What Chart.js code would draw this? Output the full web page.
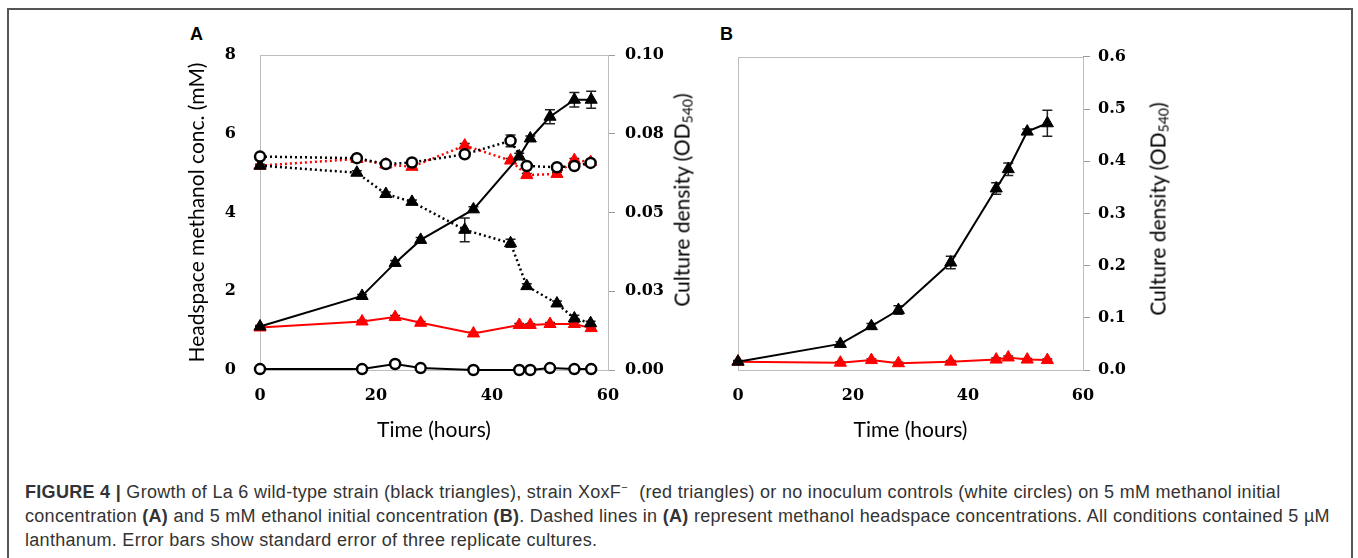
<!DOCTYPE html>
<html>
<head>
<meta charset="utf-8">
<script src="https://cdn.jsdelivr.net/npm/chart.js@4.4.0/dist/chart.umd.min.js"></script>
<style>
  body { margin: 0; width: 1358px; height: 558px; background: #fff; position: relative; overflow: hidden; font-family: 'Liberation Sans', Arial, sans-serif; }
  #frame { position: absolute; left: 7px; top: 8px; width: 1346px; height: 570px; border: 2px solid #555; box-sizing: border-box; }
  canvas { position: absolute; top: 30px; }
  #chartA { left: 160px; }
  #chartB { left: 690px; }
  .lbl { position: absolute; top: 24px; font: bold 18px 'Liberation Sans', Arial, sans-serif; color: #000; }
  .rt { position: absolute; font: 21px Lato, sans-serif; white-space: nowrap; color: #000; transform: translate(-50%, -50%) rotate(-90deg); }
  .rt sub { font-size: 14px; line-height: 0; vertical-align: -3px; }
  #cap { position: absolute; left: 25px; top: 480px; font-size: 18px; letter-spacing: 0.3px; line-height: 24px; color: #333; white-space: nowrap; }
  #cap sup { font-size: 11px; line-height: 0; margin-right: 6px; }
</style>
</head>
<body>
<div id="frame"></div>
<div class="lbl" style="left:190px">A</div>
<div class="lbl" style="left:720px">B</div>
<canvas id="chartA" width="540" height="430"></canvas>
<canvas id="chartB" width="540" height="430"></canvas>
<div class="rt" style="left:681px; top:200px">Culture density (OD<sub>540</sub>)</div>
<div class="rt" style="left:1157px; top:209px">Culture density (OD<sub>540</sub>)</div>
<div id="cap"><b>FIGURE 4 |</b> Growth of La 6 wild-type strain (black triangles), strain XoxF<sup>−</sup> (red triangles) or no inoculum controls (white circles) on 5 mM methanol initial<br>concentration <b>(A)</b> and 5 mM ethanol initial concentration <b>(B)</b>. Dashed lines in <b>(A)</b> represent methanol headspace concentrations. All conditions contained 5 µM<br>lanthanum. Error bars show standard error of three replicate cultures.</div>

<script>
// A: methanol headspace (left axis, mM)
const timeMeohA = [0, 16.7, 21.7, 26.2, 35.3, 43.2, 46, 51.2, 54.2, 57];
const meohWT = [5.19, 5.01, 4.47, 4.27, 3.56, 3.22, 2.13, 1.69, 1.31, 1.19];
const meohWTerr = [0.03, 0.05, 0.05, 0.05, 0.3, 0.1, 0.06, 0.06, 0.08, 0.05];
const meohXox = [5.19, 5.36, 5.22, 5.16, 5.70, 5.32, 4.95, 4.98, 5.33, 5.28];
const meohXoxErr = [0.03, 0.03, 0.03, 0.03, 0.05, 0.05, 0.04, 0.04, 0.04, 0.03];
const meohCtrl = [5.42, 5.38, 5.23, 5.27, 5.48, 5.82, 5.18, 5.15, 5.18, 5.26];
const meohCtrlErr = [0.03, 0.03, 0.03, 0.03, 0.05, 0.15, 0.04, 0.03, 0.03, 0.03];

// A: culture density (right axis, OD540)
const timeOdA = [0, 17.6, 23.3, 27.7, 36.8, 44.7, 46.6, 50, 54.2, 57.1];
const odWTA = [0.0138, 0.0235, 0.034, 0.0413, 0.051, 0.0678, 0.0735, 0.0804, 0.0858, 0.0858];
const odWTAerr = [0.0003, 0.0005, 0.0008, 0.0008, 0.0008, 0.001, 0.0008, 0.0022, 0.0023, 0.0027];
const odXoxA = [0.0135, 0.0154, 0.0168, 0.015, 0.0116, 0.0143, 0.0143, 0.0146, 0.0146, 0.0133];
const odXoxAerr = [0.0003, 0.0004, 0.0005, 0.0004, 0.0004, 0.0005, 0.0004, 0.0005, 0.0005, 0.0004];
const odCtrlA = [0.0003, 0.0003, 0.0019, 0.0006, 0, 0, 0, 0.0006, 0.0003, 0.0003];

// B: culture density on ethanol (right axis, OD540)
const timeB = [0, 17.8, 23.2, 27.9, 37, 44.9, 47, 50.3, 53.8];
const odWTB = [0.016, 0.05, 0.084, 0.115, 0.206, 0.348, 0.385, 0.457, 0.473];
const odWTBerr = [0.002, 0.004, 0.005, 0.008, 0.012, 0.011, 0.012, 0.005, 0.025];
const odXoxB = [0.016, 0.014, 0.019, 0.013, 0.016, 0.02, 0.024, 0.02, 0.019];
const odXoxBerr = [0.001, 0.002, 0.002, 0.002, 0.002, 0.003, 0.003, 0.002, 0.002];

const xTicks = [0, 20, 40, 60];
const leftTicksA = [0, 2, 4, 6, 8];
const rightTicksA = ['0.00', '0.03', '0.05', '0.08', '0.10'];
const rightTicksB = ['0.0', '0.1', '0.2', '0.3', '0.4', '0.5', '0.6'];

const tickFont = { family: "'DejaVu Serif', serif", size: 16, weight: 'bold' };
const titleFont = { family: 'Lato, sans-serif', size: 21 };

const pts = (xs, ys) => xs.map((x, i) => ({ x, y: ys[i] }));

const triangle = (color) => ({
  borderColor: color, backgroundColor: color,
  pointStyle: 'triangle', pointRadius: 7, pointBorderWidth: 1,
  pointBackgroundColor: color, pointBorderColor: color
});
const circle = {
  borderColor: '#000', backgroundColor: '#fff',
  pointStyle: 'circle', pointRadius: 5, pointBorderWidth: 2.5,
  pointBackgroundColor: '#fff', pointBorderColor: '#000'
};
const dotted = { borderDash: [2, 3], borderWidth: 2.5 };

function series(xs, ys, errs, axis, style, order) {
  return Object.assign({ data: pts(xs, ys), errors: errs, yAxisID: axis, borderWidth: 2, tension: 0, clip: false, order }, style);
}

// error bars drawn under the markers
const errorBars = {
  id: 'errorBars',
  beforeDatasetsDraw(chart) {
    const ctx = chart.ctx;
    ctx.save();
    ctx.strokeStyle = '#222';
    ctx.lineWidth = 1.5;
    chart.data.datasets.forEach((ds, i) => {
      if (!ds.errors) return;
      const sc = chart.scales[ds.yAxisID];
      chart.getDatasetMeta(i).data.forEach((p, j) => {
        const e = ds.errors[j];
        if (!e) return;
        const v = ds.data[j].y;
        const t = sc.getPixelForValue(v + e), b = sc.getPixelForValue(v - e);
        ctx.beginPath();
        ctx.moveTo(p.x, t); ctx.lineTo(p.x, b);
        ctx.moveTo(p.x - 5, t); ctx.lineTo(p.x + 5, t);
        ctx.moveTo(p.x - 5, b); ctx.lineTo(p.x + 5, b);
        ctx.stroke();
      });
    });
    ctx.restore();
  }
};

// grey box round the plot area
const frame = {
  id: 'frame',
  beforeDatasetsDraw(chart) {
    const { left, top, right, bottom } = chart.chartArea;
    const ctx = chart.ctx;
    ctx.save();
    ctx.strokeStyle = '#bdbdbd';
    ctx.lineWidth = 1;
    ctx.strokeRect(Math.round(left) + 0.5, Math.round(top) + 0.5, Math.round(right - left), Math.round(bottom - top));
    ctx.restore();
  }
};

const xScale = {
  type: 'linear', min: 0, max: 60,
  afterFit: s => { s.height = 90; s.paddingLeft = 0; s.paddingRight = 0; },
  afterBuildTicks: s => { s.ticks = xTicks.map(v => ({ value: v })); },
  ticks: { font: tickFont, color: '#000', padding: 8 },
  grid: { display: false }, border: { display: false },
  title: { display: true, text: 'Time (hours)', font: titleFont, color: '#000', padding: { top: 0, bottom: 17 } }
};

function rightScale(max, step, labels, width, pad) {
  return {
    type: 'linear', position: 'right', min: 0, max,
    afterFit: s => { s.width = width; s.paddingTop = 0; s.paddingBottom = 0; },
    afterBuildTicks: s => { s.ticks = labels.map((_, i) => ({ value: i * step })); },
    ticks: { font: tickFont, color: '#000', padding: pad, callback: (v, i) => labels[i] },
    grid: { drawOnChartArea: false, drawTicks: true, tickLength: 7, color: '#9a9a9a' },
    border: { display: false }
  };
}

const common = {
  type: 'line',
  plugins: [frame, errorBars],
};

new Chart(document.getElementById('chartA'), Object.assign({}, common, {
  data: {
    datasets: [
      series(timeMeohA, meohCtrl, meohCtrlErr, 'y', Object.assign({}, circle, dotted), 1),
      series(timeOdA, odCtrlA, null, 'y2', circle, 2),
      series(timeMeohA, meohWT, meohWTerr, 'y', Object.assign(triangle('#000'), dotted), 3),
      series(timeOdA, odWTA, odWTAerr, 'y2', triangle('#000'), 4),
      series(timeMeohA, meohXox, meohXoxErr, 'y', Object.assign(triangle('#ff0000'), dotted), 5),
      series(timeOdA, odXoxA, odXoxAerr, 'y2', triangle('#ff0000'), 6)
    ]
  },
  options: {
    responsive: false, animation: false, events: [],
    layout: { padding: { top: 25, left: 0, right: 0, bottom: 0 } },
    plugins: { legend: { display: false }, tooltip: { enabled: false } },
    scales: {
      x: xScale,
      y: {
        type: 'linear', position: 'left', min: 0, max: 8,
        afterFit: s => { s.width = 100; s.paddingTop = 0; s.paddingBottom = 0; },
        afterBuildTicks: s => { s.ticks = leftTicksA.map(v => ({ value: v })); },
        ticks: { font: tickFont, color: '#000', padding: 16 },
        grid: { display: false }, border: { display: false },
        title: { display: true, text: 'Headspace methanol conc. (mM)', font: titleFont, color: '#000', padding: { top: 25, bottom: 0 } }
      },
      y2: rightScale(0.1, 0.025, rightTicksA, 92, 10)
    }
  }
}));

new Chart(document.getElementById('chartB'), Object.assign({}, common, {
  data: {
    datasets: [
      series(timeB, odWTB, odWTBerr, 'y2', triangle('#000'), 1),
      series(timeB, odXoxB, odXoxBerr, 'y2', triangle('#ff0000'), 2)
    ]
  },
  options: {
    responsive: false, animation: false, events: [],
    layout: { padding: { top: 27, left: 48, right: 0, bottom: 0 } },
    plugins: { legend: { display: false }, tooltip: { enabled: false } },
    scales: {
      x: xScale,
      y2: rightScale(0.6, 0.1, rightTicksB, 147, 8)
    }
  }
}));
</script>
</body>
</html>
